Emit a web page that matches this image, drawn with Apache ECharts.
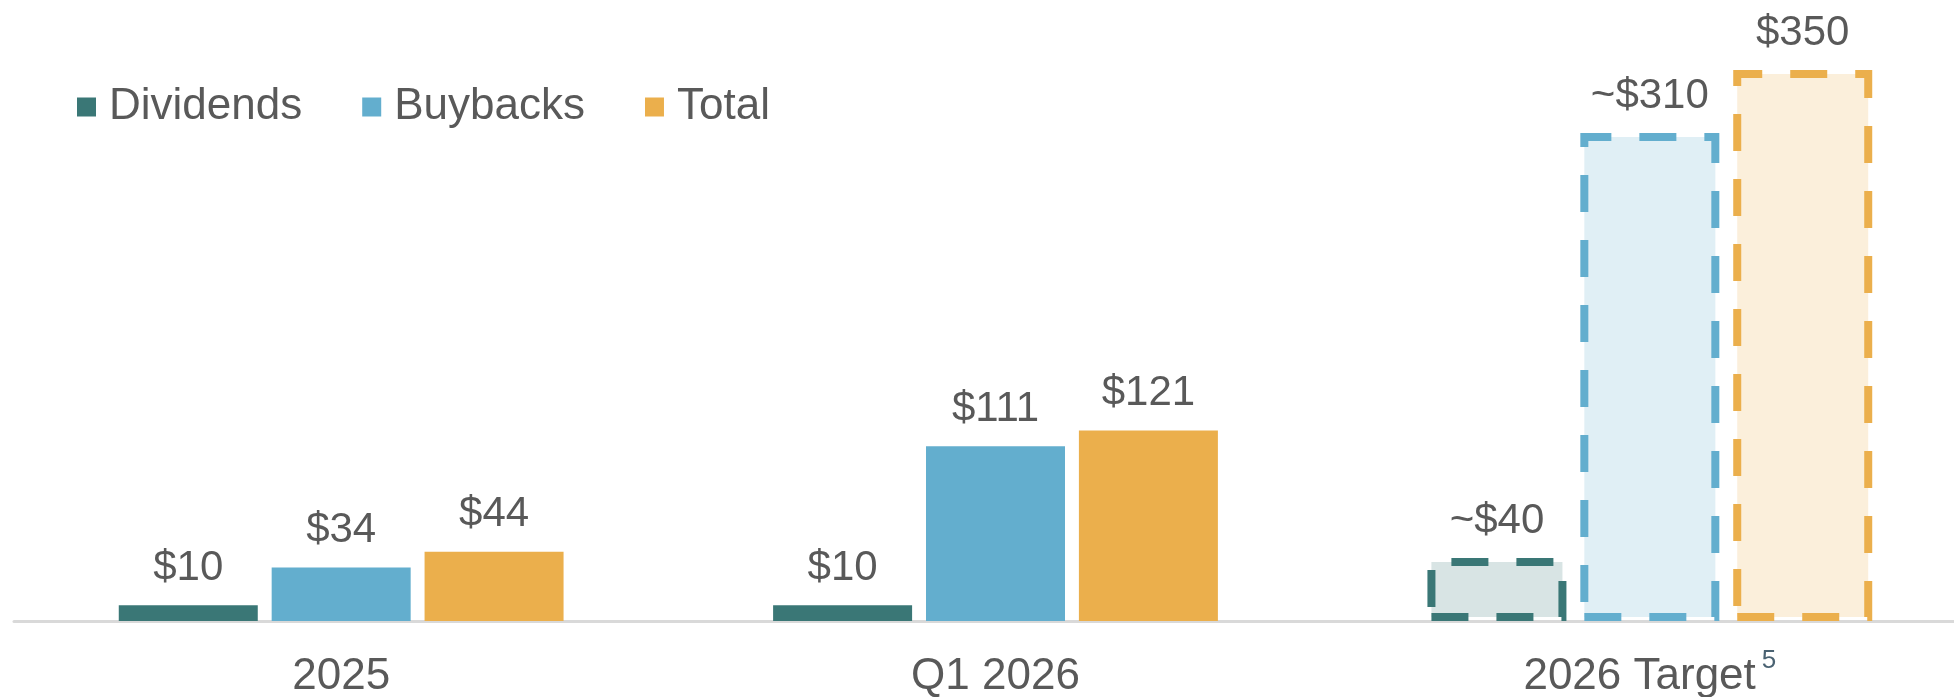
<!DOCTYPE html>
<html>
<head>
<meta charset="utf-8">
<script src="https://cdn.jsdelivr.net/npm/echarts@6/dist/echarts.min.js"></script>
<style>
    html, body { margin: 0; padding: 0; background: #fff; }
    #chart { width: 1954px; height: 697px; }
</style>
</head>
<body>
<div id="chart"></div>
<script>
// 数据
const categories = ['2025', 'Q1 2026', '2026 Target']
const dividends = [10, 10, 40]
const buybacks = [34, 111, 310]
const totals = [44, 121, 350]
// 估算值（标签加 ~）
const dividendsApprox = [false, false, true]
const buybacksApprox = [false, false, true]
const totalsApprox = [false, false, false]
// 目标为虚线框
const isTarget = [false, false, true]

const textColor = '#595959'
const fontFamily = '"Liberation Sans", Arial, sans-serif'

// 构建一个系列
function makeSeries(name, values, approx, color, fill) {
    return {
        name: name,
        type: 'bar',
        barWidth: 139,
        barGap: '10%',
        itemStyle: { color: color },
        label: {
            show: true,
            position: 'top',
            distance: 16,
            color: textColor,
            fontSize: 42,
            fontFamily: fontFamily,
            formatter: function (p) {
                return (approx[p.dataIndex] ? '~' : '') + '$' + p.value
            }
        },
        emphasis: { disabled: true },
        data: values.map(function (v, i) {
            if (!isTarget[i]) return v
            return {
                value: v,
                itemStyle: {
                    color: fill,
                    borderColor: color,
                    borderWidth: 8,
                    borderType: [37, 28]
                }
            }
        })
    }
}

const chart = echarts.init(document.getElementById('chart'))
const option = {
    animation: false,
    textStyle: { fontFamily: fontFamily },
    legend: {
        left: 72,
        top: 80,
        icon: 'rect',
        itemWidth: 19,
        itemHeight: 19,
        itemGap: 60,
        textStyle: {
            color: textColor,
            fontSize: 44,
            fontFamily: fontFamily,
            padding: [0, 0, 0, 8]
        },
        data: ['Dividends', 'Buybacks', 'Total']
    },
    grid: {
        left: 14,
        width: 1963,
        top: 70,
        bottom: 76,
        containLabel: false,
        outerBoundsMode: 'none'
    },
    xAxis: {
        type: 'category',
        data: categories,
        axisTick: { show: false },
        axisLine: { lineStyle: { color: '#d9d9d9', width: 3 } },
        axisLabel: {
            color: textColor,
            fontSize: 44,
            lineHeight: 58,
            margin: 27,
            fontFamily: fontFamily,
            formatter: function (v) {
                return v === '2026 Target' ? v + '{sup|5}' : v
            },
            rich: {
                sup: {
                    fontSize: 26,
                    color: '#4a6272',
                    fontFamily: fontFamily,
                    padding: [0, 0, 32, 6]
                }
            }
        }
    },
    yAxis: {
        type: 'value',
        min: 0,
        max: 350,
        show: false,
        splitLine: { show: false }
    },
    series: [
        makeSeries('Dividends', dividends, dividendsApprox, '#3a7776', 'rgba(58,119,118,0.2)'),
        makeSeries('Buybacks', buybacks, buybacksApprox, '#63aece', 'rgba(99,174,206,0.2)'),
        makeSeries('Total', totals, totalsApprox, '#ebaf4c', 'rgba(235,175,76,0.2)')
    ]
}
chart.setOption(option)
window.addEventListener('resize', () => {
    chart.resize()
})
</script>
</body>
</html>
